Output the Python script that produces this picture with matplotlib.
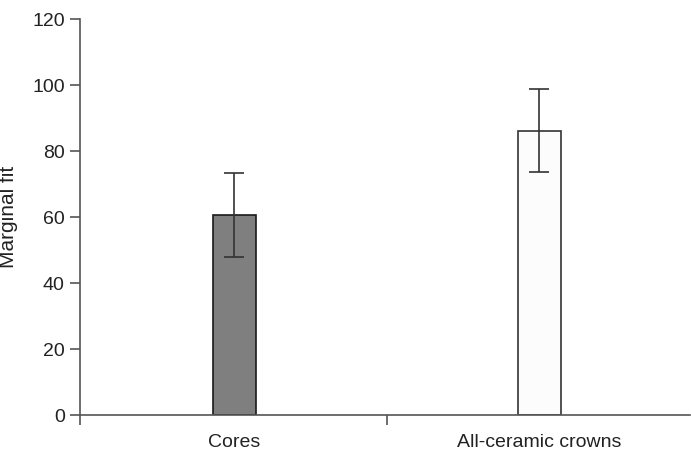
import matplotlib
matplotlib.use("Agg")
import matplotlib.pyplot as plt
import numpy as np

plt.rcParams['font.family'] = ['Liberation Sans', 'DejaVu Sans']

categories = ["Cores", "All-ceramic crowns"]
means = [60.6, 86.1]
errors = [12.7, 12.6]
colors = ["#7f7f7f", "#fcfcfc"]
edgecolors = ["#1a1a1a", "#333333"]
yticks = [0, 20, 40, 60, 80, 100, 120]

fig = plt.figure(figsize=(6.91, 4.53), dpi=100)
ax = fig.add_axes([80/691, 1-415/453, 610/691, 396/453])

x = np.arange(len(categories))
ax.bar(x, means, width=0.141, color=colors, edgecolor=edgecolors, linewidth=1.2, zorder=2)
ax.errorbar(x, means, yerr=errors, fmt='none', ecolor='#333333', elinewidth=1.2,
            capsize=7, capthick=1.2, zorder=3)

ax.set_xlim(-0.505, 1.495)
ax.set_ylim(0, 120)
ax.set_yticks(yticks)
ax.set_yticklabels([str(v) for v in yticks], fontsize=14, color='#222222')
ax.set_ylabel("Marginal fit", fontsize=15, color='#222222')
ax.yaxis.set_label_coords(-0.101, 0.5)

ax.set_xticks([-0.505, 0.5])
ax.set_xticklabels(["", ""])
ax.set_xticks(x, minor=True)
ax.set_xticklabels(categories, minor=True, fontsize=14, color='#222222')
ax.tick_params(axis='x', which='minor', length=0, pad=13.5)
ax.tick_params(axis='x', which='major', length=7, width=1.2, color='#555555', direction='out')
ax.tick_params(axis='y', length=7, width=1.2, color='#555555', direction='out', pad=4)

for s in ['top', 'right']:
    ax.spines[s].set_visible(False)
for s in ['left', 'bottom']:
    ax.spines[s].set_color('#555555')
    ax.spines[s].set_linewidth(1.2)

fig.savefig("out.png", dpi=100)
